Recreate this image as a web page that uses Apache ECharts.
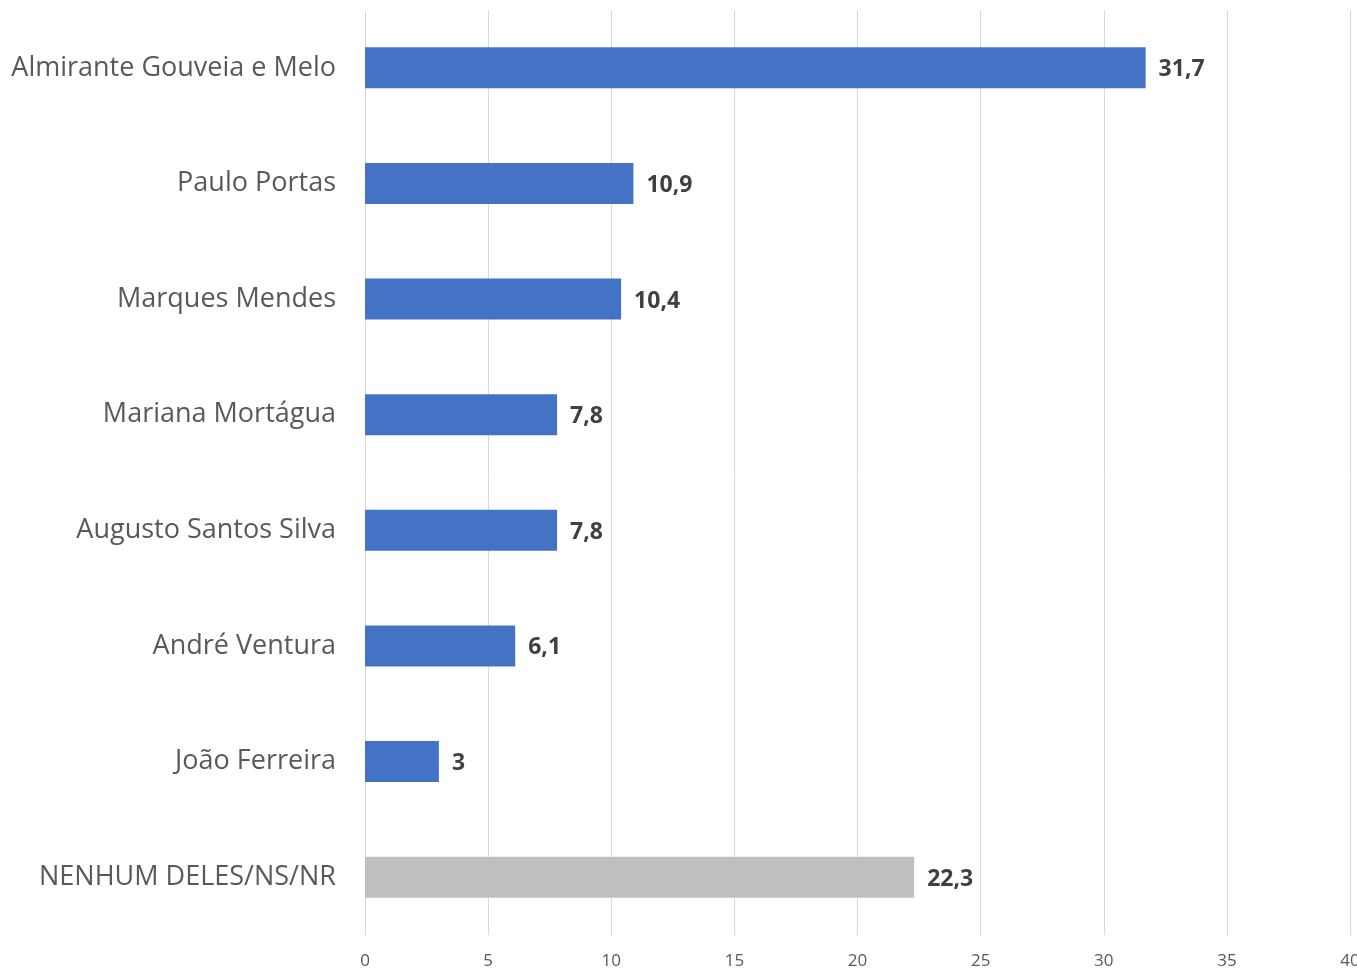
<!DOCTYPE html>
<html>
<head>
<meta charset="utf-8">
<script src="https://cdn.jsdelivr.net/npm/echarts@6/dist/echarts.min.js"></script>
<style>
html,body{margin:0;padding:0;background:#fff;}
#chart{width:1357px;height:969px;}
</style>
</head>
<body>
<div id="chart"></div>
<script>
const categories = ["Almirante Gouveia e Melo","Paulo Portas","Marques Mendes","Mariana Mortágua","Augusto Santos Silva","André Ventura","João Ferreira","NENHUM DELES/NS/NR"];
const values = [31.7, 10.9, 10.4, 7.8, 7.8, 6.1, 3, 22.3];
const barColors = ["#4472C4","#4472C4","#4472C4","#4472C4","#4472C4","#4472C4","#4472C4","#BFBFBF"];
const xTicks = [0,5,10,15,20,25,30,35,40];

const chart = echarts.init(document.getElementById('chart'));
chart.setOption({
  animation:false,
  backgroundColor:'#fff',
  grid:{left:365, right:7, top:10, bottom:34, containLabel:false, outerBoundsMode:'none'},
  xAxis:{
    type:'value', min:xTicks[0], max:xTicks[xTicks.length-1], interval:5,
    axisLine:{show:false}, axisTick:{show:false},
    splitLine:{show:true, lineStyle:{color:'#D9D9D9', width:1}},
    axisLabel:{color:'#595959', fontSize:17, fontFamily:'Open Sans', margin:18}
  },
  yAxis:{
    type:'category', data:categories, inverse:true,
    axisLine:{show:false}, axisTick:{show:false},
    axisLabel:{color:'#595959', fontSize:27, fontFamily:'Open Sans', margin:29}
  },
  series:[{
    type:'bar',
    data: values.map((v,i)=>({value:v, itemStyle:{color:barColors[i]}})),
    barWidth:41,
    label:{show:true, position:'right', distance:13, color:'#404040', fontSize:23, fontWeight:'bold', fontFamily:'Open Sans',
      offset:[0,2],
      formatter:p=>String(p.value).replace('.',',')}
  }]
});
</script>
</body>
</html>
